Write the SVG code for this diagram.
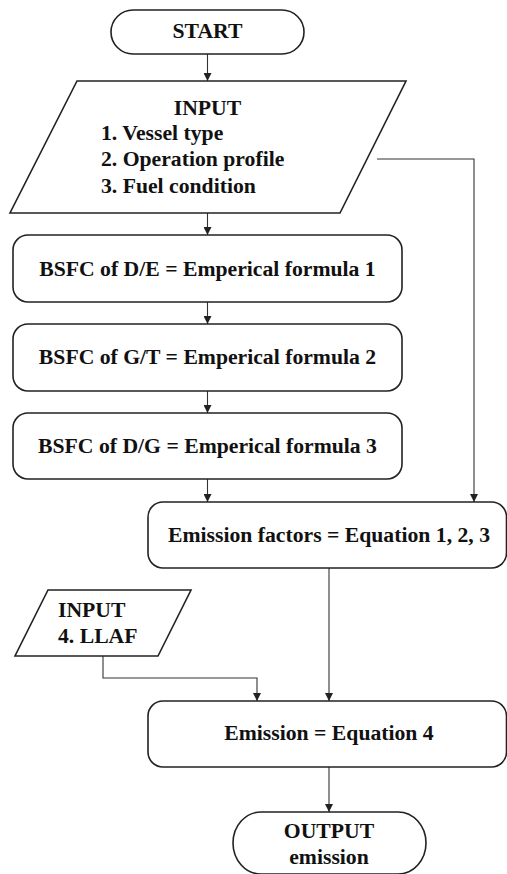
<svg xmlns="http://www.w3.org/2000/svg" width="507" height="874" viewBox="0 0 507 874">
<style>
.s{fill:#fff;stroke:#222;stroke-width:1.6}
.c{fill:none;stroke:#333;stroke-width:1.1}
text{font-family:'Liberation Serif','Times New Roman',serif;font-weight:700;font-size:21.7px;fill:#111}
.m{text-anchor:middle}
</style>
<defs>
<marker id="a" viewBox="0 0 10 10" refX="10" refY="5" markerWidth="8" markerHeight="8" markerUnits="userSpaceOnUse" orient="auto">
<path d="M0,0 L10,5 L0,10 Z" fill="#222"/>
</marker>
</defs>
<rect width="507" height="874" fill="#fff"/>
<g id="connectors">
<line class="c" x1="207.5" y1="54" x2="207.5" y2="81" marker-end="url(#a)"/>
<line class="c" x1="207.5" y1="213" x2="207.5" y2="235" marker-end="url(#a)"/>
<line class="c" x1="207.5" y1="302" x2="207.5" y2="324" marker-end="url(#a)"/>
<line class="c" x1="207.5" y1="391" x2="207.5" y2="413" marker-end="url(#a)"/>
<line class="c" x1="207.5" y1="479" x2="207.5" y2="502" marker-end="url(#a)"/>
<polyline class="c" points="377,159 474,159 474,502" marker-end="url(#a)"/>
<line class="c" x1="329" y1="568" x2="329" y2="701" marker-end="url(#a)"/>
<polyline class="c" points="103,656 103,678 257,678 257,701" marker-end="url(#a)"/>
<line class="c" x1="329" y1="767" x2="329" y2="812" marker-end="url(#a)"/>
</g>
<g id="start">
<rect class="s" x="111" y="10" width="193" height="44" rx="22"/>
<text class="m" x="207.5" y="38">START</text>
</g>
<g id="input1">
<polygon class="s" points="77,81 406,81 340,213 10,213"/>
<text class="m" x="207.5" y="115">INPUT</text>
<text x="101" y="140">1. Vessel type</text>
<text x="101" y="166">2. Operation profile</text>
<text x="101" y="193">3. Fuel condition</text>
</g>
<g id="bsfc1">
<rect class="s" x="13" y="235" width="389" height="67" rx="15"/>
<text class="m" x="207.5" y="276">BSFC of D/E = Emperical formula 1</text>
</g>
<g id="bsfc2">
<rect class="s" x="13" y="324" width="389" height="67" rx="15"/>
<text class="m" x="207.5" y="364">BSFC of G/T = Emperical formula 2</text>
</g>
<g id="bsfc3">
<rect class="s" x="13" y="413" width="389" height="66" rx="15"/>
<text class="m" x="207.5" y="453">BSFC of D/G = Emperical formula 3</text>
</g>
<g id="factors">
<rect class="s" x="148" y="502" width="358.5" height="66" rx="15"/>
<text class="m" x="329" y="542">Emission factors = Equation 1, 2, 3</text>
</g>
<g id="input2">
<polygon class="s" points="48,590 191,590 158,656 15,656"/>
<text x="58" y="617">INPUT</text>
<text x="58" y="643">4. LLAF</text>
</g>
<g id="emission">
<rect class="s" x="148" y="701" width="358.5" height="66" rx="15"/>
<text class="m" x="329" y="740">Emission = Equation 4</text>
</g>
<g id="output">
<rect class="s" x="233" y="812" width="193" height="62" rx="28" ry="31"/>
<text class="m" x="329" y="838">OUTPUT</text>
<text class="m" x="329" y="864">emission</text>
</g>
</svg>
